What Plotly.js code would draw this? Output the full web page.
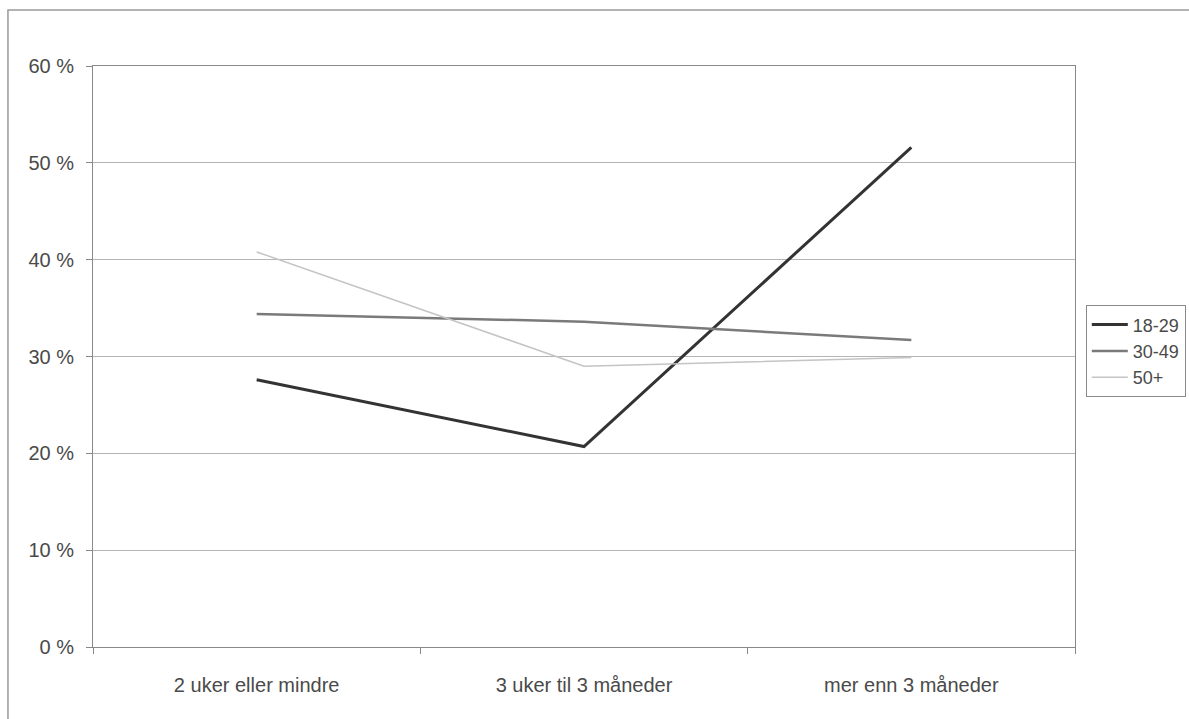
<!DOCTYPE html>
<html>
<head>
<meta charset="utf-8">
<script src="https://cdn.plot.ly/plotly-3.0.1.min.js"></script>
<style>html,body{margin:0;padding:0;background:#fff;}#chart{width:1189px;height:719px;}</style>
</head>
<body>
<div id="chart"></div>
<script>
var categories = ["2 uker eller mindre", "3 uker til 3 måneder", "mer enn 3 måneder"];
var seriesNames = ["18-29", "30-49", "50+"];
var values1829 = [27.6, 20.7, 51.6];
var values3049 = [34.4, 33.6, 31.7];
var values50 = [40.8, 29.0, 29.9];
var yTicks = [0, 10, 20, 30, 40, 50, 60];

var traces = [
  {x: categories, y: values1829, name: seriesNames[0], type: 'scatter', mode: 'lines',
   line: {color: '#333333', width: 3}},
  {x: categories, y: values3049, name: seriesNames[1], type: 'scatter', mode: 'lines',
   line: {color: '#7a7a7a', width: 2.5}},
  {x: categories, y: values50, name: seriesNames[2], type: 'scatter', mode: 'lines',
   line: {color: '#c4c4c4', width: 1.5}}
];

var layout = {
  width: 1189, height: 719,
  margin: {l: 93, r: 114, t: 66, b: 72, autoexpand: false},
  paper_bgcolor: '#ffffff', plot_bgcolor: '#ffffff',
  font: {family: 'Liberation Sans, Arial, sans-serif', size: 20, color: '#4a4a4a'},
  showlegend: true,
  legend: {x: 1.011, y: 0.588, xanchor: 'left', yanchor: 'top',
    bordercolor: '#8a8a8a', borderwidth: 1, bgcolor: '#ffffff',
    font: {size: 18, color: '#4a4a4a'}, tracegroupgap: 0, itemwidth: 36},
  xaxis: {type: 'category', range: [-0.5, 2.5], tickson: 'boundaries', ticks: 'outside', ticklen: 6,
    tickcolor: '#888888', showline: true, linecolor: '#888888', linewidth: 1,
    mirror: true, showgrid: false, zeroline: false, fixedrange: true,
    ticklabelstandoff: 20, tickfont: {size: 20, color: '#4a4a4a'}},
  yaxis: {range: [0, 60], tickvals: yTicks, ticktext: yTicks.map(function(v){return v + ' %';}),
    ticks: 'outside', ticklen: 6, tickcolor: '#888888',
    showline: true, linecolor: '#888888', linewidth: 1, mirror: true,
    showgrid: true, gridcolor: '#b5b5b5', gridwidth: 1, zeroline: false,
    ticklabelstandoff: 8, tickfont: {size: 20, color: '#4a4a4a'}},
  shapes: [
    {type: 'rect', xref: 'paper', yref: 'paper', x0: -0.0866, x1: 1.13, y0: -0.14, y1: 1.0964,
     line: {color: '#9a9a9a', width: 1.5}, fillcolor: 'rgba(0,0,0,0)', layer: 'below'}
  ]
};

Plotly.newPlot('chart', traces, layout, {displayModeBar: false, staticPlot: true});
</script>
</body>
</html>
